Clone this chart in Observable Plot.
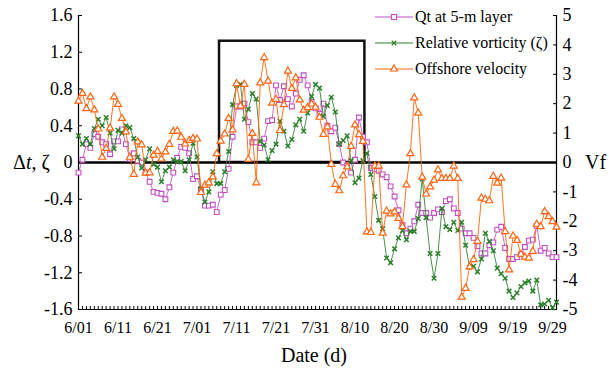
<!DOCTYPE html>
<html><head><meta charset="utf-8">
<script src="https://cdn.jsdelivr.net/npm/d3@7"></script>
<script src="https://cdn.jsdelivr.net/npm/@observablehq/plot@0.6"></script>
<style>
html,body{margin:0;padding:0;background:#fff;}
#chart{width:609px;height:371px;}
#chart svg text{font-family:'Liberation Serif','Times New Roman',serif;}
</style></head><body><div id="chart"></div>
<script>
// Day index 0 = 6/01 ... 121 = 9/30
const qt = [-0.11,0.03,0.20,0.16,0.31,0.28,0.22,0.20,0.09,0.23,0.23,0.36,0.20,0.04,0.10,0.02,0.00,-0.11,-0.21,-0.32,
 -0.33,-0.34,-0.40,-0.27,-0.11,0.05,0.17,0.16,0.10,-0.18,-0.15,-0.29,-0.47,-0.47,-0.46,-0.54,-0.35,-0.30,-0.07,0.28,
 0.61,0.61,0.64,0.44,0.22,0.22,0.16,0.26,0.45,0.46,0.84,0.68,0.83,0.69,0.61,0.75,0.90,0.95,0.84,0.66,
 0.59,0.53,0.64,0.40,0.34,0.38,0.20,0.00,-0.03,-0.11,0.03,0.49,0.28,0.22,-0.06,-0.07,-0.09,-0.13,-0.16,-0.26,
 -0.37,-0.52,-0.68,-0.77,-0.72,-0.64,-0.46,-0.55,-0.55,-0.60,-0.55,-0.51,-0.54,-0.42,-0.40,-0.50,-0.55,-0.72,-0.77,-0.77,
 -0.82,-0.91,-0.99,-0.99,-0.90,-0.87,-0.73,-0.70,-0.93,-1.05,-1.05,-1.03,-1.00,-0.92,-0.85,-0.84,-0.69,-0.96,-0.93,-0.99,
 -1.03,-1.03];
const vorticity = [0.29,0.20,0.26,0.20,0.37,0.47,0.40,0.49,0.32,0.15,0.35,0.32,0.40,0.38,0.26,0.06,-0.06,0.03,0.15,-0.02,
 -0.05,-0.21,-0.09,-0.05,0.03,0.01,0.01,-0.09,0.03,0.21,0.06,-0.29,-0.43,-0.32,-0.10,-0.23,-0.23,-0.10,0.12,0.63,
 0.84,0.85,0.47,0.58,0.75,0.69,0.23,0.19,0.03,0.13,0.20,0.45,0.34,0.18,0.25,0.41,0.47,0.34,0.54,0.72,
 0.85,0.81,0.50,0.62,0.71,0.55,0.20,0.24,0.29,0.02,-0.22,-0.17,0.02,0.10,-0.13,-0.37,-0.63,-0.72,-1.04,-1.09,
 -0.94,-0.82,-0.74,-0.84,-0.75,-0.75,-0.61,-0.18,-0.60,-0.99,-1.26,-0.99,-0.50,-0.70,-0.73,-0.65,-0.74,-0.65,-0.90,-1.14,
 -1.13,-1.19,-1.05,-0.77,-0.86,-0.96,-1.15,-1.21,-1.26,-1.40,-1.47,-1.42,-1.35,-1.31,-1.29,-1.40,-1.28,-1.55,-1.54,-1.50,
 -1.58,-1.52];
const offshoreVf = [2.09,2.35,1.83,2.23,1.79,1.14,0.18,0.48,1.17,2.23,1.98,1.50,1.04,0.18,-0.40,0.70,0.60,-0.36,-0.35,0.25,
 0.38,0.12,0.36,0.62,1.06,1.07,0.86,0.63,0.75,0.82,0.80,-1.02,-0.77,-0.69,-0.49,0.30,0.73,0.97,1.50,1.11,
 2.68,1.92,2.66,0.11,0.99,-0.69,2.71,3.57,2.77,2.02,2.15,1.09,1.97,3.11,2.52,2.88,2.13,1.78,1.87,1.99,
 1.88,1.54,0.96,1.21,-0.06,-0.74,-0.96,-0.45,-0.15,0.55,1.28,0.95,0.72,-2.36,-2.38,-0.12,-0.12,-2.40,-1.65,-1.75,
 -1.68,-1.90,-2.18,-0.76,0.30,2.20,1.68,-0.50,-1.07,-0.83,-0.60,-0.25,-0.54,-0.54,-0.54,-0.12,-0.54,-4.58,-4.28,-3.55,
 -3.30,-2.68,-1.21,-1.25,-1.30,-0.47,-0.70,-0.53,-2.35,-3.65,-2.50,-2.65,-3.12,-3.22,-3.25,-3.02,-2.10,-2.18,-1.67,-1.84,
 -2.01,-2.20];

const leftTicks = [-1.6,-1.2,-0.8,-0.4,0,0.4,0.8,1.2,1.6];
const rightTicks = [-5,-4,-3,-2,-1,0,1,2,3,4,5];
const labelDays = [0,10,20,30,40,50,60,70,80,90,100,110,120];
const dateLabels = ["6/01","6/11","6/21","7/01","7/11","7/21","7/31","8/10","8/20","8/30","9/09","9/19","9/29"];
const seriesNames = ["Qt at 5-m layer","Relative vorticity (\u03b6)","Offshore velocity"];
const highlightBox = [{x1:35.7, x2:72.5, y1:0, y2:1.32}];

const PURPLE = "#c24fc2", GREEN = "#2a7f2a", ORANGE = "#ff6410";
const VF_PER_LEFT = 5/1.6;
const FONT = "'Liberation Serif','Times New Roman',serif";

const rows = qt.map((q,i)=>({day:i, qt:q, vort:vorticity[i], vf:offshoreVf[i]/VF_PER_LEFT}));
const hy = s => s.replace("\u2212","-");
const fmtLeft = d => d===0 ? "0" : hy(d3.format(".1f")(d));
const fmtRight = d => hy(String(Math.round(d*VF_PER_LEFT)));

const chart = Plot.plot({
  width: 609, height: 371,
  marginLeft: 78, marginRight: 53, marginTop: 15, marginBottom: 62,
  style: {fontFamily: FONT, background: "#fff", color: "#000", overflow: "visible"},
  x: {domain: [0, 121], label: null},
  y: {domain: [-1.6, 1.6], label: null},
  marks: [
    Plot.axisY(leftTicks, {anchor:"left", tickSize:-4, tickPadding:10, fontSize:18, fontFamily:FONT, tickFormat: fmtLeft, label:null}),
    Plot.axisY(rightTicks.map(v=>v/VF_PER_LEFT), {anchor:"right", tickSize:-4, tickPadding:10, fontSize:18, fontFamily:FONT, tickFormat: fmtRight, label:null}),
    Plot.axisX(d3.range(0,122), {anchor:"bottom", tickSize:-3, tickFormat: ()=>"", label:null}),
    Plot.axisX(labelDays, {anchor:"bottom", tickSize:0, tickPadding:12, fontSize:16, fontFamily:FONT, tickFormat: d => dateLabels[labelDays.indexOf(d)], label:null}),
    Plot.ruleX([0, 121], {stroke:"#000", strokeWidth:1.2}),
    Plot.ruleY([-1.6], {stroke:"#000", strokeWidth:1.2}),
    Plot.rect(highlightBox, {x1:"x1", x2:"x2", y1:"y1", y2:"y2", fill:"none", stroke:"#111", strokeWidth:2.5}),
    Plot.ruleY([0], {stroke:"#000", strokeWidth:2.5}),
    Plot.lineY(rows, {x:"day", y:"qt", stroke:PURPLE, strokeWidth:1, strokeOpacity:0.85}),
    Plot.dot(rows, {x:"day", y:"qt", symbol:"square", r:2.7, stroke:PURPLE, fill:"#fff", strokeWidth:1.1}),
    Plot.lineY(rows, {x:"day", y:"vort", stroke:GREEN, strokeWidth:1, strokeOpacity:0.85}),
    Plot.dot(rows, {x:"day", y:"vort", symbol:"times", r:2.2, stroke:GREEN, strokeWidth:1.5}),
    Plot.lineY(rows, {x:"day", y:"vf", stroke:ORANGE, strokeWidth:1, strokeOpacity:0.9}),
    Plot.dot(rows, {x:"day", y:"vf", symbol:"triangle", r:2.6, stroke:ORANGE, fill:"#fff", strokeWidth:1.2})
  ]
});

const svg = d3.select(chart).attr("font-family", FONT).style("font-family", FONT);
svg.selectAll('g[aria-label="y-axis tick label"] text').style("font-size","18px");
svg.selectAll('g[aria-label="x-axis tick label"] text').style("font-size","16px");
// axis titles
const yl = svg.append("text").attr("x", 13).attr("y", 169).attr("text-anchor","start").style("font-size","20px");
yl.append("tspan").text("\u0394");
yl.append("tspan").attr("font-style","italic").text("t");
yl.append("tspan").text(", \u03b6");
svg.append("text").attr("x", 585).attr("y", 169).attr("text-anchor","start").style("font-size","20px").text("Vf");
svg.append("text").attr("x", 314).attr("y", 362).attr("text-anchor","middle").style("font-size","20px").text("Date (d)");

// legend
const legendRows = [
  {name: seriesNames[0], color: PURPLE, sym: d3.symbolSquare, size: 25, fill:"#fff"},
  {name: seriesNames[1], color: GREEN, sym: d3.symbolTimes, size: 15, fill:"none"},
  {name: seriesNames[2], color: ORANGE, sym: d3.symbolTriangle, size: 21, fill:"#fff"}
];
const lg = svg.append("g");
legendRows.forEach((r,i)=>{
  const y = 17 + i*26;
  lg.append("line").attr("x1",375).attr("x2",413).attr("y1",y).attr("y2",y).attr("stroke",r.color).attr("stroke-width",1);
  lg.append("path").attr("d", d3.symbol(r.sym, r.size)()).attr("transform",`translate(394,${y})`)
    .attr("stroke", r.color).attr("fill", r.fill).attr("stroke-width", 1.2);
  lg.append("text").attr("x",415).attr("y",y+5).attr("text-anchor","start").style("font-size","16px").text(r.name);
});

document.getElementById("chart").appendChild(chart);
</script>
</body></html>
